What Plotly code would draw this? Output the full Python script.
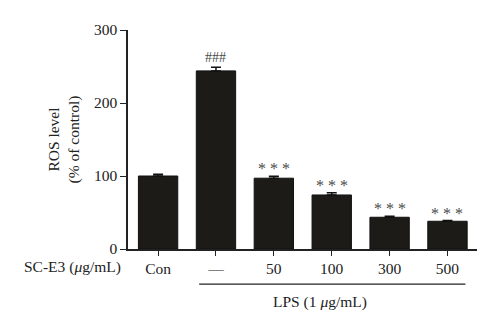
import plotly.graph_objects as go

# ROS level by treatment group
groups = ["Con", "—", "50", "100", "300", "500"]
ros_level = [100, 244, 97, 74, 43.5, 38]
ros_sem = [2.5, 5, 2.5, 3, 1.2, 1]
marks = ["", "###", "* * *", "* * *", "* * *", "* * *"]

FONT = "Liberation Serif, Times New Roman, serif"
xs = list(range(len(groups)))

fig = go.Figure()
fig.add_trace(go.Bar(
    x=xs, y=ros_level,
    width=0.68,
    marker=dict(color="#1d1b17", line=dict(color="#111111", width=1)),
    error_y=dict(type="data", array=ros_sem, arrayminus=[0] * len(ros_sem),
                 color="#111111", thickness=1.5, width=5),
    showlegend=False,
))

# significance marks above each bar (asterisks sit high in the line box)
for x, v, e, m in zip(xs, ros_level, ros_sem, marks):
    if m:
        star = m.startswith("*")
        fig.add_annotation(x=x, y=v + e, text=m, showarrow=False, yanchor="bottom",
                           yshift=-3 if star else 0,
                           font=dict(family=FONT, size=16 if star else 14, color="#4a4a4a"))

# row label for the concentration axis
fig.add_annotation(xref="paper", yref="paper", x=-0.015, y=-0.08, xanchor="right",
                   yanchor="middle", showarrow=False, text="SC-E3 (<i>μ</i>g/mL)",
                   font=dict(family=FONT, size=15.5, color="#222222"))

# LPS bracket line and label
fig.add_shape(type="line", xref="x", yref="paper", x0=0.71, x1=5.31, y0=-0.16, y1=-0.16,
              line=dict(color="#222222", width=1.2))
fig.add_annotation(xref="x", yref="paper", x=2.79, y=-0.242, showarrow=False,
                   yanchor="middle", text="LPS (1 <i>μ</i>g/mL)",
                   font=dict(family=FONT, size=15.5, color="#222222"))

fig.update_layout(
    width=500, height=335,
    margin=dict(l=128, r=23, t=30, b=86),
    paper_bgcolor="white", plot_bgcolor="white",
    font=dict(family=FONT, size=15.5, color="#222222"),
    xaxis=dict(
        range=[-0.52, 5.51], tickmode="array", tickvals=xs, ticktext=groups,
        showline=True, linecolor="#222222", linewidth=1.5,
        ticks="outside", ticklen=5, tickwidth=1.2, tickcolor="#222222",
        showgrid=False, zeroline=False,
    ),
    yaxis=dict(
        range=[0, 300], tickvals=[0, 100, 200, 300],
        showline=True, linecolor="#222222", linewidth=1.5,
        ticks="outside", ticklen=6, tickwidth=1.2, tickcolor="#222222",
        showgrid=False, zeroline=False,
        title=dict(text="ROS level<br>(% of control)", standoff=10,
                   font=dict(family=FONT, size=15.5)),
    ),
)

fig.write_html("out.html")
